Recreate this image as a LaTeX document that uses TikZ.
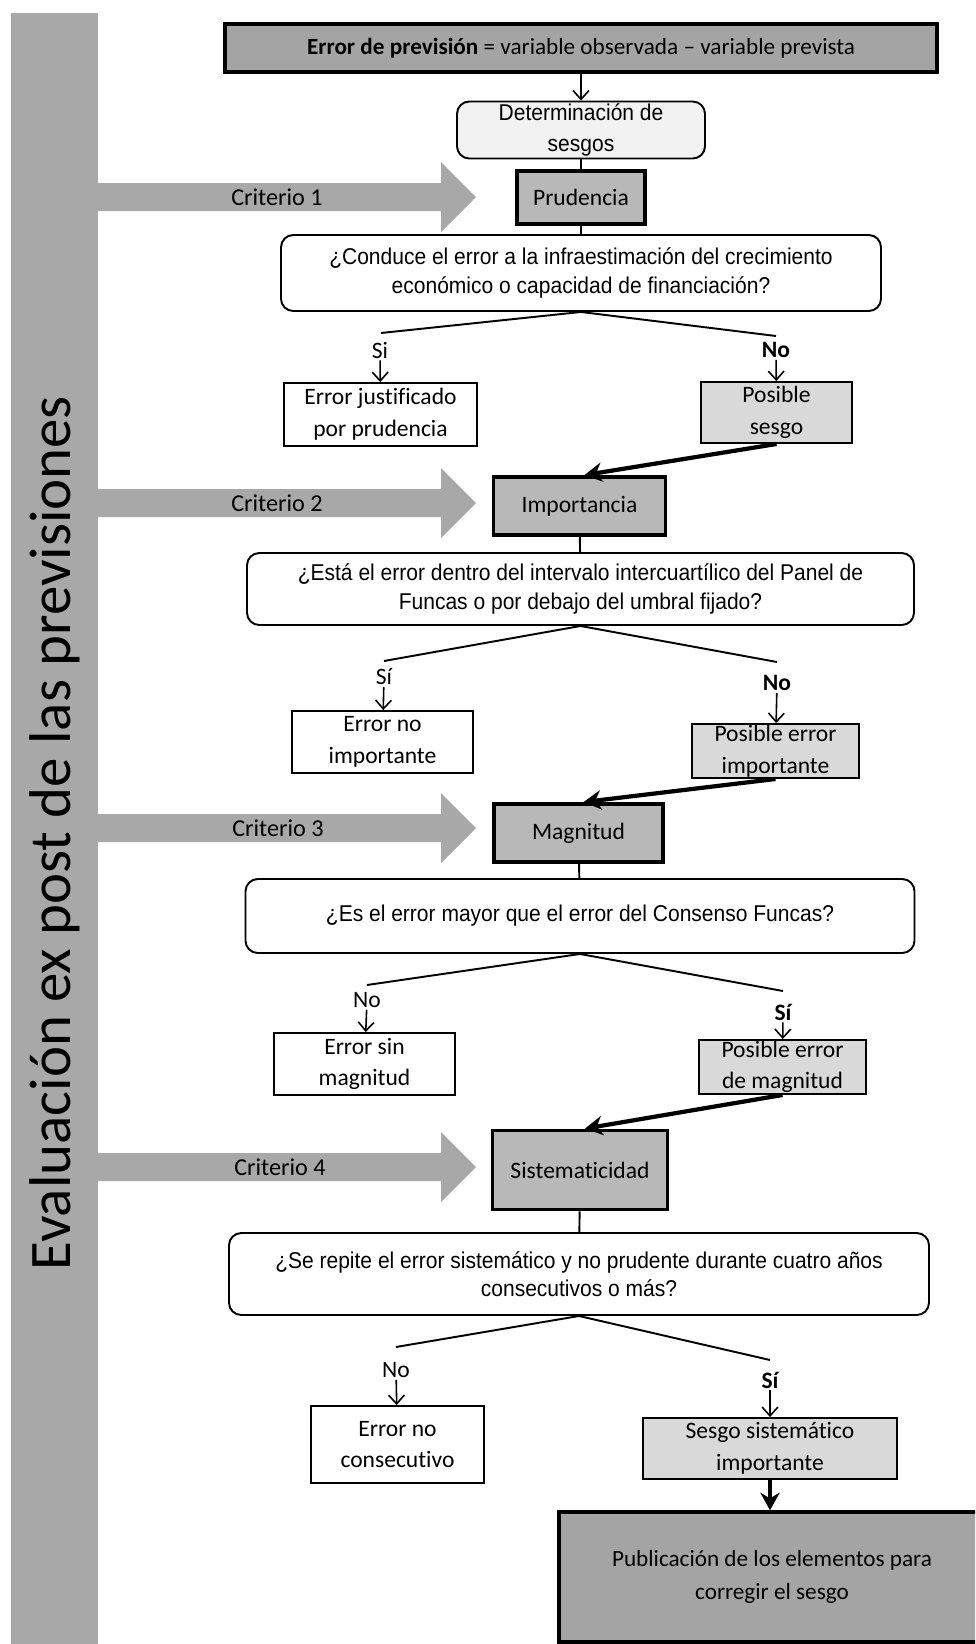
\documentclass[tikz,border=0pt]{standalone}
\usepackage{fontspec}
\setmainfont{Carlito}[Ligatures={TeX,NoCommon}]
\newfontfamily\askfont[FakeStretch=0.92]{Liberation Sans}
\usetikzlibrary{arrows.meta, positioning}

\definecolor{bandgray}{HTML}{A8A8A8}
\definecolor{darkfill}{HTML}{A4A4A4}
\definecolor{critfill}{HTML}{B8B8B8}
\definecolor{lightfill}{HTML}{D9D9D9}
\definecolor{paleFill}{HTML}{F2F2F2}

\begin{document}
\begin{tikzpicture}[x=0.2mm, y=-0.2mm,
      % Define compact styles
      header/.style={rectangle, draw, line width=2pt, fill=darkfill, inner sep=0pt, align=center, font=\fontsize{13.2}{15}\selectfont},
      stage/.style={rectangle, draw, line width=2.2pt, fill=critfill, inner sep=0pt, align=center, font=\fontsize{13.4}{18}\selectfont},
      question/.style={rectangle, rounded corners=7pt, draw, line width=1.1pt, fill=white, inner sep=0pt, align=center, font=\askfont\fontsize{13}{16}\selectfont},
      outcome/.style={rectangle, draw, line width=1.1pt, fill=white, inner sep=0pt, align=center, font=\fontsize{13.4}{18}\selectfont},
      maybe/.style={outcome, fill=lightfill},
      answer/.style={inner sep=1pt, font=\fontsize{13.4}{15}\selectfont},
      critlabel/.style={inner sep=0pt, font=\fontsize{13.8}{15}\selectfont},
      branch/.style={line width=1.1pt},
      thinarrow/.style={-{Straight Barb[length=5pt,width=9pt]}, line width=0.9pt},
      boldarrow/.style={-{Stealth[length=10pt,width=11pt]}, line width=2.4pt}
    ]
    \clip (0,0) rectangle (975,1644);

    % Left band and criteria arrows
    \fill[bandgray] (11,13) rectangle (98,1650);
    \node[rotate=90, inner sep=0pt, font=\fontsize{33.5}{35}\selectfont] (title) at (55,833) {Evaluación ex post de las previsiones};
    \foreach \y in {197, 503, 828, 1167}
      \fill[bandgray] (97,\y-14) -- (441,\y-14) -- (441,\y-35) -- (476,\y) -- (441,\y+35) -- (441,\y+14) -- (97,\y+14) -- cycle;
    \node[critlabel] (crit1) at (277,197) {Criterio 1};
    \node[critlabel] (crit2) at (277,503) {Criterio 2};
    \node[critlabel] (crit3) at (278,828) {Criterio 3};
    \node[critlabel] (crit4) at (280,1167) {Criterio 4};

    % Main column
    \node[header, minimum width=14.24cm, minimum height=0.96cm] (error) at (581,48) {\textbf{Error de previsión} = variable observada -- variable prevista};
    \node[question, fill=paleFill, minimum width=4.96cm, minimum height=1.14cm] (sesgos) at (581,130) {Determinación de\\[2pt]sesgos};
    \node[stage, minimum width=2.56cm, minimum height=1.06cm] (prudencia) at (581,197.5) {Prudencia};
    \node[question, minimum width=12cm, minimum height=1.52cm] (ask1) at (581,273) {¿Conduce el error a la infraestimación del crecimiento\\económico o capacidad de financiación?};

    \node[stage, minimum width=3.44cm, minimum height=1.16cm] (importancia) at (579.5,506) {Importancia};
    \node[question, minimum width=13.34cm, minimum height=1.44cm] (ask2) at (580.5,589) {¿Está el error dentro del intervalo intercuartílico del Panel de\\Funcas o por debajo del umbral fijado?};

    \node[stage, minimum width=3.38cm, minimum height=1.16cm] (magnitud) at (578.5,833) {Magnitud};
    \node[question, minimum width=13.38cm, minimum height=1.48cm] (ask3) at (580,916) {¿Es el error mayor que el error del Consenso Funcas?};

    \node[stage, minimum width=3.5cm, minimum height=1.58cm] (sistem) at (580,1170) {Sistematicidad};
    \node[question, minimum width=14cm, minimum height=1.64cm] (ask4) at (579,1274) {¿Se repite el error sistemático y no prudente durante cuatro años\\consecutivos o más?};

    % Outcomes
    \node[outcome, minimum width=3.86cm, minimum height=1.26cm] (justif) at (380.5,414.5) {Error justificado\\por prudencia};
    \node[maybe, minimum width=3.02cm, minimum height=1.22cm] (possesgo) at (776.5,412.5) {Posible\\sesgo};
    \node[outcome, minimum width=3.62cm, minimum height=1.24cm] (noimport) at (382.5,742) {Error no\\importante};
    \node[maybe, minimum width=3.34cm, minimum height=1.08cm] (posimport) at (775.5,751) {Posible error\\importante};
    \node[outcome, minimum width=3.62cm, minimum height=1.24cm] (sinmagn) at (364.5,1064) {Error sin\\magnitud};
    \node[maybe, minimum width=3.34cm, minimum height=1.08cm] (posmagn) at (782.5,1067) {Posible error\\de magnitud};
    \node[outcome, minimum width=3.46cm, minimum height=1.54cm] (nocons) at (397.5,1444.5) {Error no\\consecutivo};
    \node[maybe, minimum width=5.08cm, minimum height=1.22cm] (sesgosist) at (770,1448.5) {Sesgo sistemático\\importante};
    \node[header, font=\fontsize{13.2}{18.5}\selectfont, minimum width=8.52cm, minimum height=2.6cm] (publica) at (772,1577) {Publicación de los elementos para\\corregir el sesgo};

    % Branch ends and answers
    \coordinate (left1) at (381,333);
    \coordinate (right1) at (776,336);
    \node[answer] (si1) at (380,350) {Si};
    \node[answer, font=\bfseries\fontsize{13.4}{15}\selectfont] (no1) at (776,350) {No};
    \coordinate (left2) at (384,661);
    \coordinate (right2) at (777,662);
    \node[answer] (si2) at (384,677) {Sí};
    \node[answer, font=\bfseries\fontsize{13.4}{15}\selectfont] (no2) at (777,683) {No};
    \coordinate (left3) at (367,985);
    \coordinate (right3) at (783,991);
    \node[answer] (no3) at (367,1000) {No};
    \node[answer, font=\bfseries\fontsize{13.4}{15}\selectfont] (si3) at (783,1012) {Sí};
    \coordinate (left4) at (396,1347);
    \coordinate (right4) at (770,1360);
    \node[answer] (no4) at (396,1370) {No};
    \node[answer, font=\bfseries\fontsize{13.4}{15}\selectfont] (si4) at (770,1380) {Sí};

    % Main flow
    \draw[thinarrow] (error) -- (sesgos);
    \draw[line width=1.1pt] (sesgos) -- (prudencia);
    \draw[line width=1.1pt] (prudencia) -- (ask1);
    \draw[line width=1.1pt] (importancia) -- (ask2);
    \draw[line width=1.1pt] (magnitud) -- (ask3);
    \draw[line width=1.1pt] (sistem) -- (ask4);

    % Branches
    \draw[branch] (left1) -- (ask1.south) -- (right1);
    \draw[thinarrow] (si1) -- (justif);
    \draw[thinarrow] (no1) -- (possesgo);
    \draw[branch] (left2) -- (ask2.south) -- (right2);
    \draw[thinarrow] (si2) -- (noimport);
    \draw[thinarrow] (no2) -- (posimport);
    \draw[branch] (left3) -- (ask3.south) -- (right3);
    \draw[thinarrow] (no3) -- (sinmagn);
    \draw[thinarrow] (si3) -- (posmagn);
    \draw[branch] (left4) -- (ask4.south) -- (right4);
    \draw[thinarrow] (no4) -- (nocons);
    \draw[thinarrow] (si4) -- (sesgosist);

    % Possible errors lead to next criterion
    \draw[boldarrow] (possesgo.south) -- ([xshift=1mm]importancia.north);
    \draw[boldarrow] (posimport.south) -- ([xshift=1mm]magnitud.north);
    \draw[boldarrow] (posmagn.south) -- ([xshift=1mm]sistem.north);
    \draw[boldarrow] (sesgosist.south) -- (sesgosist.south |- publica.north);

  \end{tikzpicture}
\end{document}
